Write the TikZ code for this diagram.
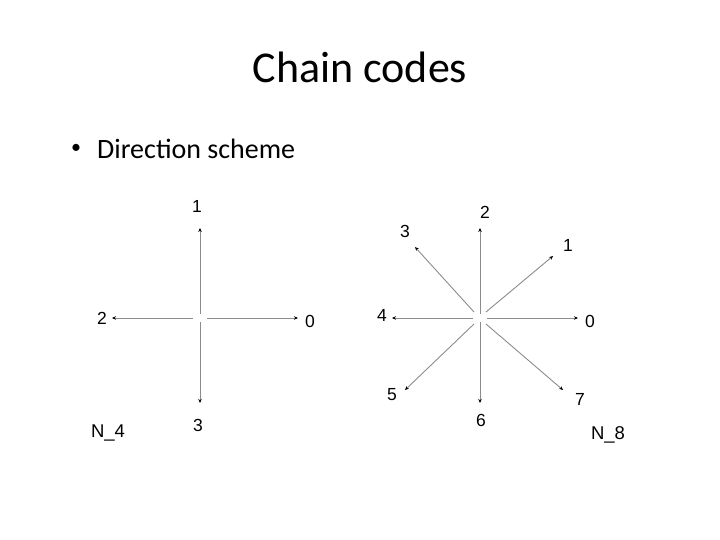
\documentclass[tikz,border=0pt]{standalone}
\usepackage{fontspec}
\setmainfont{Carlito}
\newfontfamily\lblfont{Liberation Sans}
\usetikzlibrary{arrows.meta}
\begin{document}
\begin{tikzpicture}[x=1pt,y=-1pt,
  dirarrow/.style={draw={rgb,255:red,140;green,140;blue,140}, line width=0.9pt, -{Stealth[length=4pt,width=3.5pt,black]}},
  lbl/.style={font=\lblfont\fontsize{17.5}{17.5}\selectfont, inner sep=0pt},
  nlbl/.style={font=\lblfont\fontsize{18.5}{18.5}\selectfont, inner sep=0pt}]
\useasboundingbox (0,0) rectangle (720,540);
\fill[white] (0,0) rectangle (720,540);
% title and bullet
\node[anchor=base, inner sep=0pt, font=\fontsize{44}{44}\selectfont] (title) at (360,83) {Chain codes};
\node[anchor=base west, inner sep=0pt, font=\fontsize{28}{28}\selectfont] (bullet) at (97,159) {Direction scheme};
\node[inner sep=0pt, font=\fontsize{20}{20}\selectfont] (dot) at (76,149) {•};
% N_4
\coordinate (c4u) at (200,314);
\coordinate (c4d) at (200,322);
\coordinate (c4l) at (193,318);
\coordinate (c4r) at (207,318);
\coordinate (a40) at (298,318);
\coordinate (a41) at (200,228);
\coordinate (a42) at (112,318);
\coordinate (a43) at (200,403);
\draw[dirarrow] (c4r) -- (a40);
\draw[dirarrow] (c4u) -- (a41);
\draw[dirarrow] (c4l) -- (a42);
\draw[dirarrow] (c4d) -- (a43);
\node[lbl] (l40) at (310,321) {0};
\node[lbl] (l41) at (197,206) {1};
\node[lbl] (l42) at (102,318) {2};
\node[lbl] (l43) at (198,425) {3};
\node[nlbl] (n4) at (108,433) {N\_4};
% N_8
\coordinate (c8u) at (480,314);
\coordinate (c8d) at (480,322);
\coordinate (c8l) at (473,318);
\coordinate (c8r) at (487,318);
\coordinate (c81) at (486,312);
\coordinate (c83) at (474,312);
\coordinate (c85) at (474,324);
\coordinate (c87) at (486,324);
\coordinate (a80) at (578,318);
\coordinate (a81) at (553,256);
\coordinate (a82) at (480,228);
\coordinate (a83) at (415,247);
\coordinate (a84) at (392,318);
\coordinate (a85) at (405,390);
\coordinate (a86) at (480,403);
\coordinate (a87) at (563,390);
\draw[dirarrow] (c8r) -- (a80);
\draw[dirarrow] (c81) -- (a81);
\draw[dirarrow] (c8u) -- (a82);
\draw[dirarrow] (c83) -- (a83);
\draw[dirarrow] (c8l) -- (a84);
\draw[dirarrow] (c85) -- (a85);
\draw[dirarrow] (c8d) -- (a86);
\draw[dirarrow] (c87) -- (a87);
\node[lbl] (l80) at (590,321) {0};
\node[lbl] (l81) at (568,245) {1};
\node[lbl] (l82) at (485,212) {2};
\node[lbl] (l83) at (405,231) {3};
\node[lbl] (l84) at (382,315) {4};
\node[lbl] (l85) at (392,395) {5};
\node[lbl] (l86) at (481,420) {6};
\node[lbl] (l87) at (580,399) {7};
\node[nlbl] (n8) at (608,435) {N\_8};
\end{tikzpicture}
\end{document}
